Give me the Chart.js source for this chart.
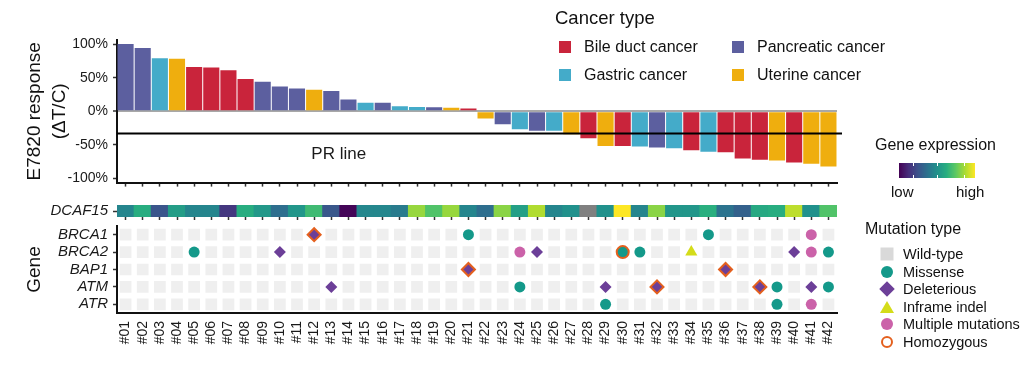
<!DOCTYPE html>
<html>
<head>
<meta charset="utf-8">
<title>E7820 response waterfall</title>
<script src="https://cdn.jsdelivr.net/npm/chart.js@4.4.1/dist/chart.umd.min.js"></script>
<style>
  body { margin: 0; background: #fff; font-family: "Liberation Sans", Arial, sans-serif; color: #111; }
  #wrap { position: relative; width: 1036px; height: 372px; overflow: hidden; }
  #wrap canvas { position: absolute; left: 0; }
  .lg { position: absolute; white-space: nowrap; line-height: 1; }
  .sw { position: absolute; }
</style>
</head>
<body>
<div id="wrap">
  <canvas id="respChart" width="880" height="196" style="top:0"></canvas>
  <canvas id="exprChart" width="880" height="51" style="top:180px"></canvas>
  <canvas id="mutChart" width="880" height="160" style="top:197px"></canvas>
  <div id="legends"></div>
</div>
<script>
// --- data ---
const samples = ["#01","#02","#03","#04","#05","#06","#07","#08","#09","#10","#11","#12","#13","#14",
  "#15","#16","#17","#18","#19","#20","#21","#22","#23","#24","#25","#26","#27","#28",
  "#29","#30","#31","#32","#33","#34","#35","#36","#37","#38","#39","#40","#41","#42"];

// B = bile duct, P = pancreatic, G = gastric, U = uterine
const cancerType = ["P","P","G","U","B","B","B","B","P","P","P","U","P","P",
  "G","P","G","G","P","U","B","U","P","G","P","G","U","B",
  "U","B","G","P","G","B","G","B","B","B","U","B","U","U"];

// E7820 response, % dT/C
const response = [100, 94, 79, 78, 66, 65, 61, 48, 44, 37, 34, 32, 30, 17.5,
  12.7, 12.7, 7.5, 6.5, 6.2, 5.4, 4, -10.7, -19.4, -26.7, -29, -29, -34, -40,
  -51.5, -51.5, -52.4, -54, -55, -58, -60, -61, -70, -72, -73, -76, -78, -82];

// DCAF15 expression on a 0..1 (low..high) scale, null = not available
const exprGene = "DCAF15";
const expression = [0.45, 0.62, 0.26, 0.55, 0.45, 0.45, 0.16, 0.62, 0.53, 0.36, 0.52, 0.68, 0.27, 0.01,
  0.46, 0.46, 0.41, 0.84, 0.72, 0.84, 0.45, 0.36, 0.82, 0.56, 0.88, 0.45, 0.5, null,
  0.5, 1.0, 0.45, 0.82, 0.52, 0.52, 0.63, 0.38, 0.31, 0.6, 0.62, 0.9, 0.5, 0.72];

const yTicks = [100, 50, 0, -50, -100];
const prThreshold = -33;

const genes = ["BRCA1", "BRCA2", "BAP1", "ATM", "ATR"];
const missense = [["#21","BRCA1"],["#35","BRCA1"],["#05","BRCA2"],["#30","BRCA2"],["#31","BRCA2"],["#42","BRCA2"],
  ["#24","ATM"],["#39","ATM"],["#42","ATM"],["#29","ATR"],["#39","ATR"]];
const deleterious = [["#12","BRCA1"],["#10","BRCA2"],["#25","BRCA2"],["#40","BRCA2"],["#21","BAP1"],["#36","BAP1"],
  ["#13","ATM"],["#29","ATM"],["#32","ATM"],["#38","ATM"],["#41","ATM"]];
const inframeIndel = [["#34","BRCA2"]];
const multipleMut = [["#41","BRCA1"],["#24","BRCA2"],["#41","BRCA2"],["#41","ATR"]];
const homozygous = [["#12","BRCA1"],["#30","BRCA2"],["#21","BAP1"],["#36","BAP1"],["#32","ATM"],["#38","ATM"]];

// --- styling ---
const FONT = '"Liberation Sans", Arial, sans-serif';
Chart.defaults.font.family = FONT;
Chart.defaults.color = "#1a1a1a";

const typeNames = { B: "Bile duct cancer", P: "Pancreatic cancer", G: "Gastric cancer", U: "Uterine cancer" };
const typeColors = { B: "#c9243b", P: "#5c5f9f", G: "#44abc9", U: "#efae0e" };
const legendOrder = ["B", "P", "G", "U"];

const C_MIS = "#14998a", C_DEL = "#6c3f98", C_IND = "#d4dc1a", C_MUL = "#cb62a9", C_HOM = "#e4601e";
const C_WT = "#efefef", C_NA = "#808080";

const viridisStops = ["#440154","#472d7b","#3b528b","#2c728e","#21918c","#28ae80","#5ec962","#addc30","#fde725"];
function hexRgb(h) { return [1, 3, 5].map(i => parseInt(h.slice(i, i + 2), 16)); }
function viridis(t) {
  const n = viridisStops.length - 1;
  const i = Math.min(Math.floor(t * n), n - 1);
  const f = t * n - i;
  const a = hexRgb(viridisStops[i]), b = hexRgb(viridisStops[i + 1]);
  return "rgb(" + a.map((v, k) => Math.round(v + (b[k] - v) * f)).join(",") + ")";
}

const Y_AXIS_W = 117;
const titleFont = { family: FONT, size: 19, lineHeight: 1.3 };
const noUi = { legend: { display: false }, tooltip: { enabled: false } };

// --- response waterfall ---
const prLinePlugin = {
  id: "prLine",
  afterDatasetsDraw(chart) {
    const { ctx, chartArea, scales } = chart;
    const py = scales.y.getPixelForValue(prThreshold);
    ctx.save();
    ctx.strokeStyle = "#000";
    ctx.lineWidth = 2;
    ctx.beginPath();
    ctx.moveTo(chartArea.left, py);
    ctx.lineTo(chartArea.right + 5, py);
    ctx.stroke();
    ctx.font = "17px " + FONT;
    ctx.fillStyle = "#1a1a1a";
    ctx.textAlign = "center";
    ctx.textBaseline = "middle";
    ctx.fillText("PR line", chartArea.left + chartArea.width * 0.308, py + 21);
    ctx.restore();
  },
};

new Chart(document.getElementById("respChart"), {
  type: "bar",
  data: {
    labels: samples,
    datasets: [{
      data: response,
      backgroundColor: cancerType.map(t => typeColors[t]),
      barPercentage: 0.94,
      categoryPercentage: 1,
      borderWidth: 0,
    }],
  },
  options: {
    responsive: false,
    animation: false,
    events: [],
    layout: { padding: { top: 40, right: 43, left: 0, bottom: 0 } },
    plugins: noUi,
    scales: {
      x: {
        grid: { offset: false, drawOnChartArea: false, tickLength: 4, tickColor: "#333", tickWidth: 1.5 },
        border: { display: true, color: "#111", width: 2 },
        ticks: { display: false },
        afterFit: s => { s.height = 10; },
      },
      y: {
        min: -106,
        max: 106,
        afterBuildTicks: s => { s.ticks = yTicks.map(v => ({ value: v })); },
        ticks: { callback: v => v + "%", font: { size: 14 }, color: "#1a1a1a", padding: 5 },
        grid: {
          color: c => (c.tick && c.tick.value === 0 ? "#a8a8a8" : "rgba(0,0,0,0)"),
          lineWidth: c => (c.tick && c.tick.value === 0 ? 2 : 1),
          tickColor: "#333",
          tickLength: 4,
          tickWidth: 1.5,
        },
        border: { display: true, color: "#111", width: 2 },
        title: { display: true, text: ["E7820 response", "(ΔT/C)"], font: titleFont, color: "#111", padding: { top: 22.5 } },
        afterFit: s => { s.width = Y_AXIS_W; },
      },
    },
  },
  plugins: [prLinePlugin],
});

// --- DCAF15 expression strip ---
new Chart(document.getElementById("exprChart"), {
  type: "bar",
  data: {
    labels: samples,
    datasets: [{
      data: expression.map(() => 1),
      backgroundColor: expression.map(v => (v === null ? C_NA : viridis(v))),
      barPercentage: 1,
      categoryPercentage: 1,
      borderWidth: 0,
      inflateAmount: 0.5,
    }],
  },
  options: {
    responsive: false,
    animation: false,
    events: [],
    layout: { padding: { top: 25, right: 43, left: 0, bottom: 0 } },
    plugins: noUi,
    scales: {
      x: {
        grid: { offset: false, drawOnChartArea: false, tickLength: 3, tickColor: "#333", tickWidth: 1.5 },
        border: { display: false },
        ticks: { display: false },
        afterFit: s => { s.height = 14; },
      },
      y: {
        min: 0,
        max: 1,
        afterBuildTicks: s => { s.ticks = [{ value: 0.5 }]; },
        ticks: { callback: () => exprGene, font: { size: 15, style: "italic" }, color: "#1a1a1a", padding: 5 },
        grid: { drawOnChartArea: false, tickLength: 4, tickColor: "#333", tickWidth: 1.5 },
        border: { display: false },
        afterFit: s => { s.width = Y_AXIS_W; },
      },
    },
  },
});

// --- mutation grid ---
const toPts = list => list.map(([x, y]) => ({ x, y }));
const mutated = [].concat(missense, deleterious, inframeIndel, multipleMut);
const wildType = [];
genes.forEach(g => samples.forEach(s => {
  if (!mutated.some(m => m[0] === s && m[1] === g)) wildType.push({ x: s, y: g });
}));
const isHomo = p => p && homozygous.some(h => h[0] === p.x && h[1] === p.y);

function markerSet(list, style, radius, color) {
  return {
    data: toPts(list),
    pointStyle: style,
    pointRadius: c => (isHomo(c.raw) ? radius + 0.5 : radius),
    pointBackgroundColor: color,
    pointBorderColor: c => (isHomo(c.raw) ? C_HOM : color),
    pointBorderWidth: c => (isHomo(c.raw) ? 2 : 0),
  };
}

new Chart(document.getElementById("mutChart"), {
  type: "scatter",
  data: {
    datasets: [
      { data: wildType, pointStyle: "rect", pointRadius: 8.3, pointBackgroundColor: C_WT, pointBorderWidth: 0 },
      markerSet(missense, "circle", 5.5, C_MIS),
      markerSet(deleterious, "rectRot", 6, C_DEL),
      markerSet(inframeIndel, "triangle", 7, C_IND),
      markerSet(multipleMut, "circle", 5.5, C_MUL),
    ],
  },
  options: {
    responsive: false,
    animation: false,
    events: [],
    layout: { padding: { top: 29, right: 43, left: 0, bottom: 0 } },
    plugins: noUi,
    scales: {
      x: {
        type: "category",
        labels: samples,
        offset: true,
        grid: { drawOnChartArea: false, drawTicks: false },
        border: { display: true, color: "#111", width: 2 },
        ticks: { autoSkip: false, minRotation: 90, maxRotation: 90, padding: 8, font: { size: 14 }, color: "#1a1a1a" },
        afterFit: s => { s.height = 44; },
      },
      y: {
        type: "category",
        labels: genes,
        offset: true,
        grid: { drawOnChartArea: false, tickLength: 4, tickColor: "#333", tickWidth: 1.5 },
        border: { display: true, color: "#111", width: 2 },
        ticks: { autoSkip: false, font: { size: 15, style: "italic" }, color: "#1a1a1a", padding: 5 },
        title: { display: true, text: "Gene", font: titleFont, color: "#111", padding: { top: 22.5 } },
        afterFit: s => { s.width = Y_AXIS_W; },
      },
    },
  },
});

// --- legends (html) ---
const lg = document.getElementById("legends");
function addText(txt, left, cy, size) {
  const d = document.createElement("div");
  d.className = "lg";
  d.textContent = txt;
  d.style.cssText += `left:${left}px;top:${cy - size / 2}px;font-size:${size}px;`;
  lg.appendChild(d);
  return d;
}
function addBox(css) {
  const d = document.createElement("div");
  d.className = "sw";
  d.style.cssText += css;
  lg.appendChild(d);
  return d;
}

addText("Cancer type", 555, 18, 18.5);
legendOrder.forEach((t, i) => {
  const col = i % 2, row = Math.floor(i / 2);
  const sx = col ? 732 : 559, cy = row ? 75 : 47;
  addBox(`left:${sx}px;top:${cy - 6}px;width:12px;height:12px;background:${typeColors[t]}`);
  addText(typeNames[t], sx + 25, cy, 16);
});

addText("Gene expression", 875, 145, 16);
addBox(`left:899px;top:163px;width:76px;height:15px;background:linear-gradient(to right,${viridisStops.join(",")})`);
[0.18, 0.5, 0.85].forEach(f => {
  addBox(`left:${899 + 76 * f}px;top:163px;width:1px;height:3px;background:#fff`);
  addBox(`left:${899 + 76 * f}px;top:175px;width:1px;height:3px;background:#fff`);
});
addText("low", 891, 191, 15);
addText("high", 956, 191, 15);

addText("Mutation type", 865, 229, 16);
const mutLegend = [
  ["Wild-type", "width:13px;height:13px;background:#d9d9d9;"],
  ["Missense", `width:12px;height:12px;border-radius:50%;background:${C_MIS};`],
  ["Deleterious", `width:11px;height:11px;background:${C_DEL};`],
  ["Inframe indel", `width:0;height:0;border-left:7px solid transparent;border-right:7px solid transparent;border-bottom:12px solid ${C_IND};`],
  ["Multiple mutations", `width:12px;height:12px;border-radius:50%;background:${C_MUL};`],
  ["Homozygous", `width:8px;height:8px;border-radius:50%;border:2px solid ${C_HOM};`],
];
const mutRows = [254, 272, 289, 307, 324, 342];
mutLegend.forEach(([name, css], i) => {
  const b = addBox(css + `left:887px;top:${mutRows[i]}px;`);
  b.style.transform = name === "Deleterious" ? "translate(-50%,-50%) rotate(45deg)" : "translate(-50%,-50%)";
  addText(name, 903, mutRows[i], 14.5);
});
</script>
</body>
</html>
